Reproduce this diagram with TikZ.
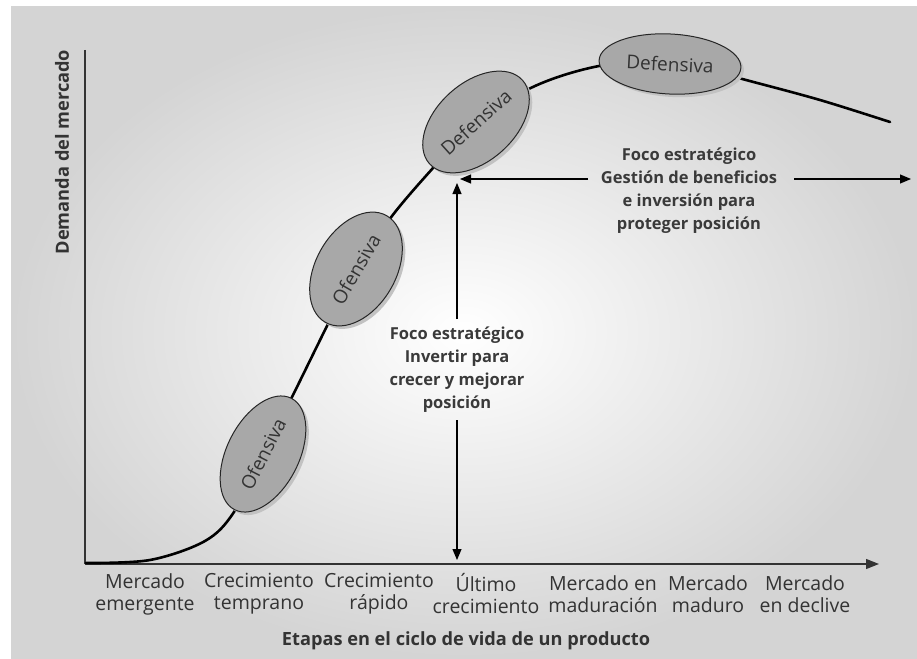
\documentclass[tikz,border=0pt]{standalone}
\usepackage{fontspec}
\setmainfont{Open Sans}
\usetikzlibrary{shapes.geometric,arrows.meta}
\definecolor{txt}{HTML}{333333}
\definecolor{ftxt}{HTML}{3A3A3A}
\definecolor{ellfill}{HTML}{A8A8A8}
\definecolor{ellshadow}{HTML}{C2C2C2}
\definecolor{bgout}{HTML}{D4D4D4}
\begin{document}
\begin{tikzpicture}[x=1pt,y=-1pt,
  stage/.style={ellipse, draw=black!85, line width=1pt, fill=ellfill, inner sep=0pt, text=txt, font=\fontsize{19}{20}\selectfont},
  stageshadow/.style={ellipse, fill=ellshadow, inner sep=0pt},
  lbl/.style={align=center, text=txt, font=\fontsize{19.5}{22}\selectfont},
  focus/.style={align=center, text=ftxt, inner sep=0pt, font=\bfseries\fontsize{16.5}{23}\selectfont},
  title/.style={text=txt, inner sep=0pt, font=\bfseries\fontsize{18.2}{20}\selectfont},
  axisline/.style={line width=1.3pt, draw=black!80},
  arr/.style={line width=1.1pt, draw=black, -{Triangle[length=11pt,width=9pt]}},
]
\useasboundingbox (0,0) rectangle (917,658);
\shade[inner color=white, outer color=bgout] (11,7) rectangle (917,658);

% axes
\coordinate (O) at (85,564);
\coordinate (ytop) at (85,50);
\coordinate (xend) at (879,564);
\draw[axisline] (ytop) -- (O);
\draw[axisline, -{Triangle[length=13pt,width=10pt]}] (O) -- (xend);

% curve
\draw[line width=2.6pt, line cap=round] plot[smooth, tension=0.55] coordinates {(86,563) (150,560) (205,541) (234,512) (263,454) (292,397) (327,326) (356,269) (392,216) (433,168) (476,122) (535,86) (599,66) (670,60) (746,80) (820,100) (890,122)};

% shadows
\node[stageshadow, minimum width=125pt, minimum height=72pt, rotate=63] (of1s) at (266,457) {};
\node[stageshadow, minimum width=123pt, minimum height=80pt, rotate=60] (of2s) at (359,272) {};
\node[stageshadow, minimum width=125pt, minimum height=78pt, rotate=42] (df1s) at (479,125) {};
\node[stageshadow, minimum width=142pt, minimum height=60pt, rotate=-3] (df2s) at (673,67) {};
% ellipses
\node[stage, minimum width=125pt, minimum height=72pt, rotate=63] (of1) at (263,454) {Ofensiva};
\node[stage, minimum width=123pt, minimum height=80pt, rotate=60] (of2) at (356,269) {Ofensiva};
\node[stage, minimum width=125pt, minimum height=78pt, rotate=42] (df1) at (476,122) {Defensiva};
\node[stage, minimum width=142pt, minimum height=60pt, rotate=-3] (df2) at (670,64) {Defensiva};

% vertical focus
\node[focus] (f1) at (457,370) {Foco estratégico\\Invertir para\\crecer y mejorar\\posición};
\coordinate (vt) at (457,183);
\coordinate (vb) at (457,560);
\coordinate (g1) at (457,319);
\coordinate (g2) at (457,420);
\draw[arr] (g1) -- (vt);
\draw[arr] (g2) -- (vb);

% horizontal focus
\node[focus] (f2) at (689,191) {Foco estratégico\\Gestión de beneficios\\e inversión para\\proteger posición};
\coordinate (hl) at (460,179);
\coordinate (hr) at (911,179);
\coordinate (h1) at (588,179);
\coordinate (h2) at (794,179);
\draw[arr] (h1) -- (hl);
\draw[arr] (h2) -- (hr);

% x labels
\node[lbl] (l1) at (145,594) {Mercado\\emergente};
\node[lbl] (l2) at (259,594) {Crecimiento\\temprano};
\node[lbl] (l3) at (379,594) {Crecimiento\\rápido};
\node[lbl] (l4) at (486,594) {Último\\crecimiento};
\node[lbl] (l5) at (603,594) {Mercado en\\maduración};
\node[lbl] (l6) at (708,594) {Mercado\\maduro};
\node[lbl] (l7) at (805,594) {Mercado\\en declive};

% axis titles
\node[title] (xt) at (466,641) {Etapas en el ciclo de vida de un producto};
\node[title, rotate=90] (yt) at (62,152) {Demanda del mercado};
\end{tikzpicture}
\end{document}
